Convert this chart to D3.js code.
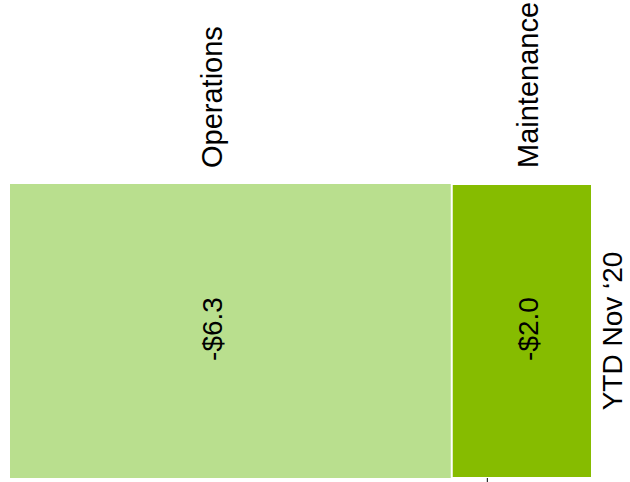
<!DOCTYPE html>
<html>
<head>
<meta charset="utf-8">
<script src="https://cdn.jsdelivr.net/npm/d3@7/dist/d3.min.js"></script>
<style>
  html, body { margin: 0; padding: 0; background: #fff; }
  svg { display: block; font-family: "Liberation Sans", Arial, sans-serif; }
</style>
</head>
<body>
<svg id="chart" width="630" height="482"></svg>
<script>
// Period shown and the cost components stacked within it
const categories = ["YTD Nov \u201820"];
const series = ["Operations", "Maintenance"];
const values = [-6.3, -2.0];
const valueLabels = ["-$6.3", "-$2.0"];
const colors = ["#b9df8e", "#86bc00"];
const tickValues = [-6.8];

const svg = d3.select("#chart");

// Stacked horizontal bar: value axis runs left to right, category axis top to bottom
const total = d3.sum(values);
const x = d3.scaleLinear().domain([0, total]).range([10, 592]);
const y = d3.scaleBand().domain(categories).range([184, 478]).padding(0);

// cumulative stack offsets
let acc = 0;
const segs = values.map((v, i) => {
  const s = { i, name: series[i], v, x0: acc, x1: acc + v, label: valueLabels[i], color: colors[i] };
  acc += v;
  return s;
});

const g = svg.append("g");

g.selectAll("rect.seg")
  .data(segs)
  .join("rect")
  .attr("class", "seg")
  .attr("x", d => x(d.x0))
  .attr("width", d => x(d.x1) - x(d.x0))
  .attr("y", y(categories[0]))
  .attr("height", y.bandwidth())
  .attr("fill", d => d.color)
  .attr("stroke", (d, i) => i > 0 ? "#fff" : "none")
  .attr("stroke-width", 2);

// label nudges along the value axis (baseline positions of rotated text)
const labelShift = [-9, 16];
const mid = d => (x(d.x0) + x(d.x1)) / 2;

// series names above the bar, reading upward
g.selectAll("text.series")
  .data(segs)
  .join("text")
  .attr("class", "series")
  .attr("transform", d => `translate(${mid(d) + labelShift[d.i]},${y(categories[0]) - 16}) rotate(-90)`)
  .attr("text-anchor", "start")
  .attr("font-size", 29)
  .attr("fill", "#000")
  .text(d => d.name);

// value labels inside the segments
g.selectAll("text.value")
  .data(segs)
  .join("text")
  .attr("class", "value")
  .attr("transform", d => `translate(${mid(d) + labelShift[d.i]},${y(categories[0]) + y.bandwidth() / 2 - 2}) rotate(-90)`)
  .attr("text-anchor", "middle")
  .attr("font-size", 28)
  .attr("fill", "#000")
  .text(d => d.label);

// category label at the end of the bar
g.append("text")
  .attr("transform", `translate(${x(total) + 30},${y(categories[0]) + y.bandwidth() / 2}) rotate(-90)`)
  .attr("text-anchor", "middle")
  .attr("font-size", 28)
  .attr("fill", "#000")
  .text(categories[0]);

// value axis below the bar: a single tick, no line
const axis = d3.axisBottom(x).tickValues(tickValues).tickFormat("").tickSize(5).tickSizeOuter(0);
const ax = svg.append("g")
  .attr("transform", `translate(0,${y.range()[1]})`)
  .call(axis);
ax.select(".domain").remove();
ax.selectAll(".tick line").attr("stroke", "#000").attr("stroke-width", 1);
</script>
</body>
</html>
